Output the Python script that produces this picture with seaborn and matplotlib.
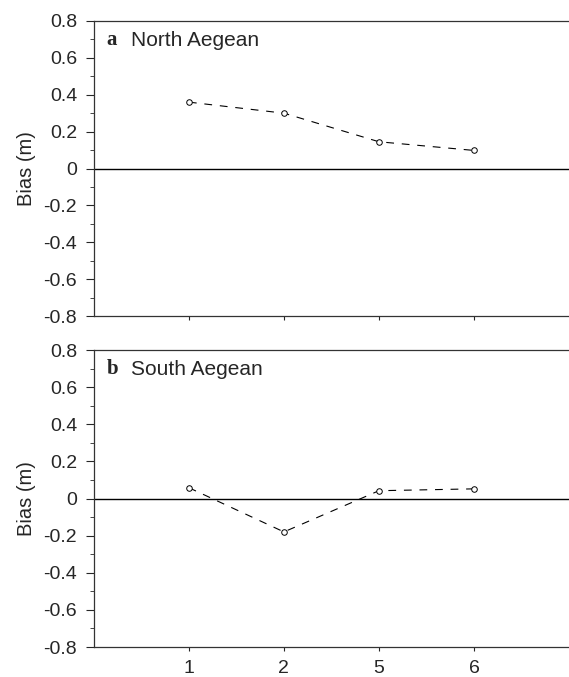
import numpy as np
import pandas as pd
import matplotlib
matplotlib.use("Agg")
import matplotlib.pyplot as plt
import seaborn as sns
from matplotlib.ticker import MultipleLocator, FuncFormatter

# values
stations = ["1", "2", "5", "6"]
north_bias = [0.36, 0.30, 0.145, 0.098]
south_bias = [0.058, -0.18, 0.042, 0.052]
panels = [("a", "North Aegean", north_bias), ("b", "South Aegean", south_bias)]

sns.set_style("ticks")
plt.rcParams["font.family"] = ["Liberation Sans", "DejaVu Sans"]


def fmt(v, pos):
    if abs(v) < 1e-9:
        return "0"
    return f"{v:.1f}"


fig = plt.figure(figsize=(5.69, 6.77), dpi=100)
ax_top = fig.add_axes([0.165, 0.5332, 0.835, 0.4358])
ax_bot = fig.add_axes([0.165, 0.0443, 0.835, 0.4387])

for ax, (letter, name, vals) in zip([ax_top, ax_bot], panels):
    df = pd.DataFrame({"station": stations, "bias": vals})
    sns.lineplot(data=df, x="station", y="bias", ax=ax, color="black",
                 linewidth=0.8, linestyle=(0, (7, 7)), marker="o",
                 markersize=4, markerfacecolor="white",
                 markeredgecolor="black", markeredgewidth=0.7)
    ax.axhline(0, color="black", linewidth=1.0, zorder=1)
    ax.set_xlim(-1, 4)
    ax.set_ylim(-0.8, 0.8)
    ax.yaxis.set_major_locator(MultipleLocator(0.2))
    ax.yaxis.set_minor_locator(MultipleLocator(0.1))
    ax.yaxis.set_major_formatter(FuncFormatter(fmt))
    ax.tick_params(axis="y", which="major", length=6, width=0.8, labelsize=14, pad=6)
    ax.tick_params(axis="y", which="minor", length=3, width=0.6)
    ax.tick_params(axis="x", which="major", length=3, width=0.8, labelsize=14, pad=6.5)
    for side in ["left", "top", "bottom"]:
        ax.spines[side].set_visible(True)
        ax.spines[side].set_linewidth(0.9)
        ax.spines[side].set_color("#333333")
    ax.spines["right"].set_visible(False)
    ax.set_xlabel("")
    ax.set_ylabel("Bias (m)", fontsize=14.5)
    ax.yaxis.set_label_coords(-0.122, 0.5)
    ax.text(0.027, 0.935, letter, transform=ax.transAxes, fontsize=15,
            fontweight="bold", family="Liberation Serif", va="center")
    ax.text(0.078, 0.935, name, transform=ax.transAxes, fontsize=15, va="center")

ax_top.set_xticklabels([])

fig.savefig("out.png", dpi=100)
